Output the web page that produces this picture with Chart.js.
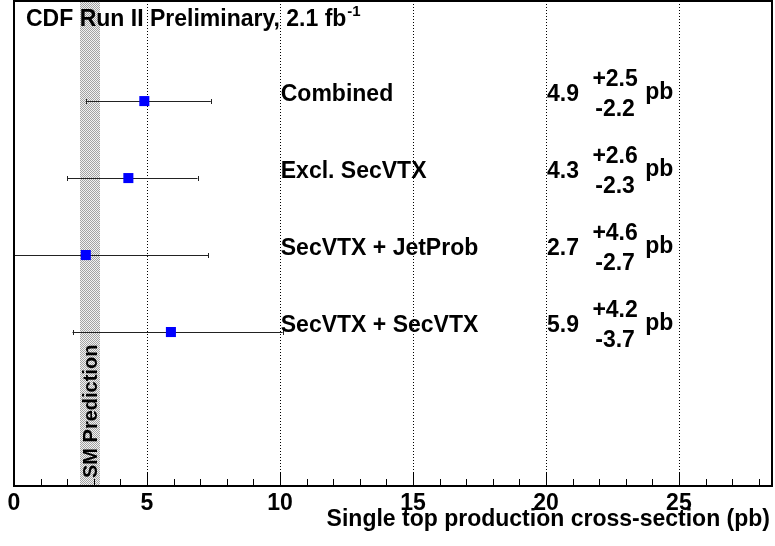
<!DOCTYPE html>
<html>
<head>
<meta charset="utf-8">
<script src="https://cdn.jsdelivr.net/npm/chart.js@4/dist/chart.umd.min.js"></script>
<style>
  html, body { margin: 0; padding: 0; background: #fff; }
  #wrap { width: 775px; height: 546px; }
</style>
</head>
<body>
<div id="wrap"><canvas id="myChart" width="775" height="546"></canvas></div>
<script>
// Data
var channels = ["Combined", "Excl. SecVTX", "SecVTX + JetProb", "SecVTX + SecVTX"];
var xsec = [4.9, 4.3, 2.7, 5.9];
var errUp = [2.5, 2.6, 4.6, 4.2];
var errDown = [2.2, 2.3, 2.7, 3.7];
var rows = [5, 4, 3, 2];
var smBand = [2.5, 3.22];
var xMin = 0, xMax = 28.5;
var yMin = 0, yMax = 6.3;

var fontName = "'Liberation Sans', Arial, Helvetica, sans-serif";

// checker pattern for the SM band
function makePattern(ctx) {
  var c = document.createElement("canvas");
  c.width = 2; c.height = 2;
  var p = c.getContext("2d");
  p.fillStyle = "#f2f2f2"; p.fillRect(0, 0, 2, 2);
  p.fillStyle = "#a2a2a2"; p.fillRect(0, 0, 1, 1); p.fillRect(1, 1, 1, 1);
  return ctx.createPattern(c, "repeat");
}

var points = xsec.map(function (v, i) { return { x: v, y: rows[i] }; });

// band, grid, error bars under the points
var underPlugin = {
  id: "under",
  beforeDatasetsDraw: function (chart) {
    var ctx = chart.ctx, xs = chart.scales.x, ys = chart.scales.y, a = chart.chartArea;
    ctx.save();
    // SM prediction band
    var b0 = xs.getPixelForValue(smBand[0]), b1 = xs.getPixelForValue(smBand[1]);
    ctx.fillStyle = makePattern(ctx);
    ctx.fillRect(Math.round(b0), a.top, Math.round(b1) - Math.round(b0), a.bottom - a.top);

    // dotted grid
    ctx.strokeStyle = "#000";
    ctx.lineWidth = 1;
    ctx.setLineDash([1, 2]);
    for (var g = 5; g < xMax; g += 5) {
      var gx = Math.round(xs.getPixelForValue(g)) + 0.5;
      ctx.beginPath(); ctx.moveTo(gx, a.top); ctx.lineTo(gx, a.bottom); ctx.stroke();
    }
    ctx.setLineDash([]);

    // SM Prediction text
    ctx.save();
    ctx.translate((b0 + b1) / 2 + 7, a.bottom - 8);
    ctx.rotate(-Math.PI / 2);
    ctx.fillStyle = "#000";
    ctx.font = "bold 20px " + fontName;
    ctx.textAlign = "left";
    ctx.textBaseline = "alphabetic";
    ctx.fillText("SM Prediction", 0, 0);
    ctx.restore();

    // error bars
    ctx.strokeStyle = "#222";
    ctx.lineWidth = 1;
    for (var i = 0; i < xsec.length; i++) {
      var lo = Math.max(xsec[i] - errDown[i], xMin);
      var hi = xsec[i] + errUp[i];
      var x0 = xs.getPixelForValue(lo), x1 = xs.getPixelForValue(hi);
      var y = Math.round(ys.getPixelForValue(rows[i])) + 0.5;
      ctx.beginPath();
      ctx.moveTo(x0, y); ctx.lineTo(x1, y);
      ctx.moveTo(Math.round(x0) + 0.5, y - 2.5); ctx.lineTo(Math.round(x0) + 0.5, y + 2.5);
      ctx.moveTo(Math.round(x1) + 0.5, y - 2.5); ctx.lineTo(Math.round(x1) + 0.5, y + 2.5);
      ctx.stroke();
    }
    ctx.restore();
  }
};

// frame, inner ticks and all the text
var overPlugin = {
  id: "over",
  afterDraw: function (chart) {
    var ctx = chart.ctx, xs = chart.scales.x, ys = chart.scales.y, a = chart.chartArea;
    ctx.save();
    ctx.strokeStyle = "#000";
    ctx.lineWidth = 1;
    for (var t = 1; t < xMax; t++) {
      var tx = Math.round(xs.getPixelForValue(t)) + 0.5;
      var len = (t % 5 === 0) ? 14 : 7;
      ctx.beginPath(); ctx.moveTo(tx, a.bottom); ctx.lineTo(tx, a.bottom - len); ctx.stroke();
    }
    ctx.lineWidth = 2;
    ctx.strokeRect(a.left, a.top, a.right - a.left, a.bottom - a.top);

    ctx.fillStyle = "#000";
    ctx.textBaseline = "alphabetic";
    // title
    ctx.font = "bold 23px " + fontName;
    ctx.textAlign = "left";
    var title = "CDF Run II Preliminary, 2.1 fb";
    ctx.fillText(title, 26, 26);
    var tw = ctx.measureText(title).width;
    ctx.font = "bold 15px " + fontName;
    ctx.fillText("-1", 26 + tw + 1, 16);

    // channel labels and results
    for (var i = 0; i < channels.length; i++) {
      var y = ys.getPixelForValue(rows[i]);
      ctx.font = "bold 23px " + fontName;
      ctx.textAlign = "left";
      ctx.fillText(channels[i], xs.getPixelForValue(10.03), y);
      ctx.fillText(xsec[i].toFixed(1), xs.getPixelForValue(20.04), y);
      ctx.textAlign = "center";
      ctx.fillText("+" + errUp[i].toFixed(1), xs.getPixelForValue(22.6), y - 15.5);
      ctx.fillText("-" + errDown[i].toFixed(1), xs.getPixelForValue(22.6), y + 14.5);
      ctx.textAlign = "left";
      ctx.fillText("pb", xs.getPixelForValue(23.73), y - 2);
    }

    // axis title
    ctx.font = "bold 23px " + fontName;
    ctx.textAlign = "right";
    ctx.fillText("Single top production cross-section (pb)", 770, 526);
    ctx.restore();
  }
};

var myChart = new Chart(document.getElementById("myChart").getContext("2d"), {
  type: "scatter",
  data: {
    datasets: [{
      label: "cross-section",
      data: points,
      pointStyle: "rect",
      pointRadius: 7.1,
      backgroundColor: "#0000ff",
      borderColor: "#0000ff",
      borderWidth: 0
    }]
  },
  options: {
    responsive: false,
    animation: false,
    layout: { autoPadding: false, padding: { left: 14, right: 3, top: 1, bottom: 0 } },
    plugins: { legend: { display: false }, tooltip: { enabled: false } },
    scales: {
      x: {
        type: "linear",
        min: xMin,
        max: xMax,
        grid: { display: false, drawTicks: false },
        border: { display: false },
        ticks: {
          stepSize: 1,
          autoSkip: false,
          includeBounds: false,
          maxRotation: 0,
          padding: 4,
          color: "#000",
          font: { family: fontName, size: 23, weight: "bold" },
          callback: function (v) { return v % 5 === 0 ? v : ""; }
        },
        afterFit: function (scale) { scale.height = 60; }
      },
      y: {
        type: "linear",
        min: yMin,
        max: yMax,
        display: false
      }
    }
  },
  plugins: [underPlugin, overPlugin]
});
</script>
</body>
</html>
